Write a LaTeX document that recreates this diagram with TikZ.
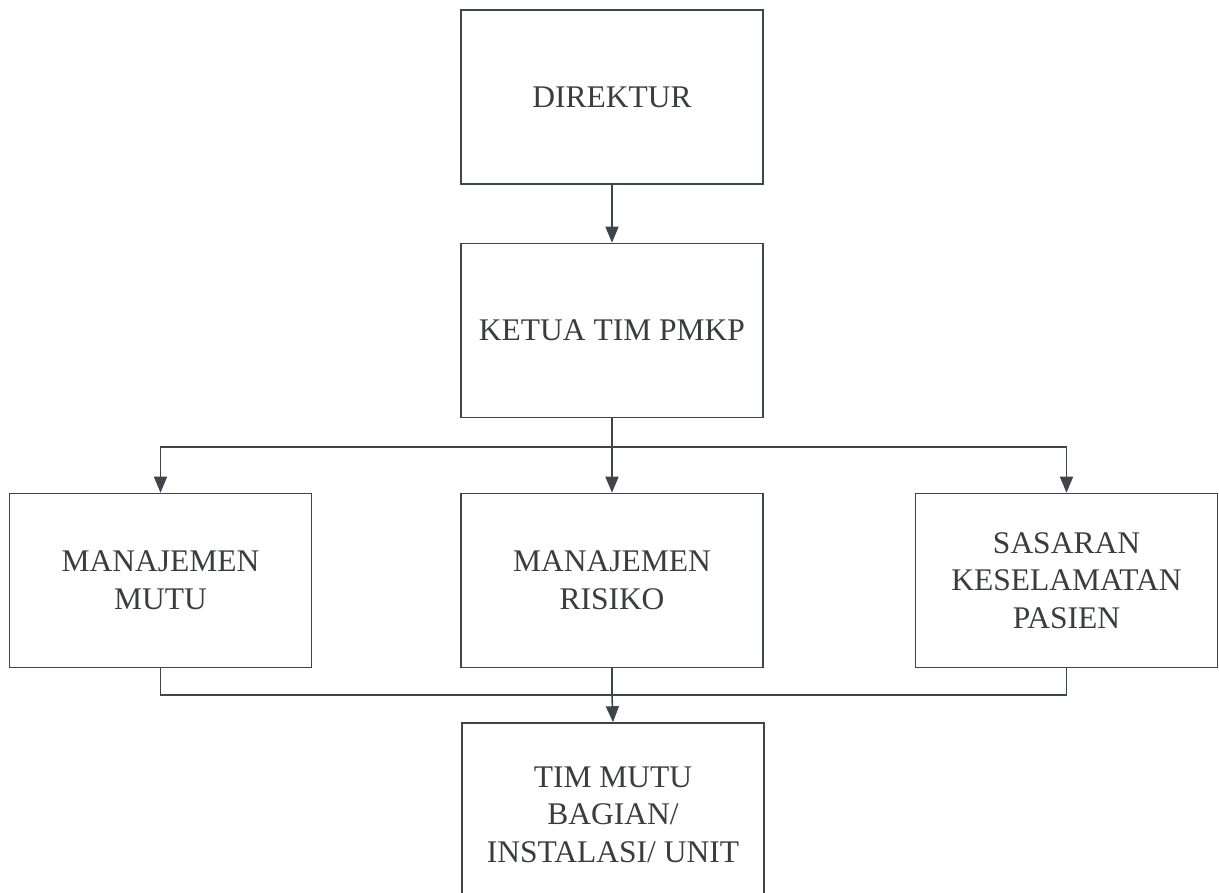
\documentclass[tikz,border=0pt]{standalone}
\usepackage{fontspec}
\setmainfont{Liberation Serif}
\usetikzlibrary{arrows.meta}
\definecolor{ln}{HTML}{40444C}
\definecolor{tx}{HTML}{3A3C40}
\begin{document}
\begin{tikzpicture}[x=1pt,y=-1pt,
 box/.style={draw=ln, line width=1.6pt, minimum width=302pt, minimum height=174pt, inner sep=0pt, align=center, text=tx, font=\fontsize{31.5}{37.5}\selectfont},
 conn/.style={draw=ln, line width=1.6pt},
 arr/.style={conn, -{Triangle[length=16pt,width=13pt]}}]
\useasboundingbox (0,0) rectangle (1219,893);
\clip (0,0) rectangle (1219,893);
\fill[white] (0,0) rectangle (1219,893);
\node[box] (dir) at (612,97) {DIREKTUR};
\node[box] (ket) at (612,330.5) {KETUA TIM PMKP};
\node[box] (mutu) at (160.5,580.5) {MANAJEMEN\\MUTU};
\node[box] (ris) at (612,580.5) {MANAJEMEN\\RISIKO};
\node[box] (sas) at (1066.5,580.5) {SASARAN\\KESELAMATAN\\PASIEN};
\node[box] (tim) at (613,810) {\rule{0pt}{30pt}TIM MUTU\\BAGIAN/\\INSTALASI/ UNIT};
\coordinate (top) at (612,447);
\coordinate (bot) at (612,695);
\draw[arr] (dir) -- (ket);
\draw[conn] (ket.south) -- (top);
\draw[arr] (top) -- (ris.north);
\draw[arr] (top) -| (mutu.north);
\draw[arr] (top) -| (sas.north);
\draw[conn] (mutu.south) |- (bot) -| (sas.south);
\draw[conn] (ris.south) -- (bot);
\draw[arr] (bot) -- (tim.north);
\end{tikzpicture}
\end{document}
